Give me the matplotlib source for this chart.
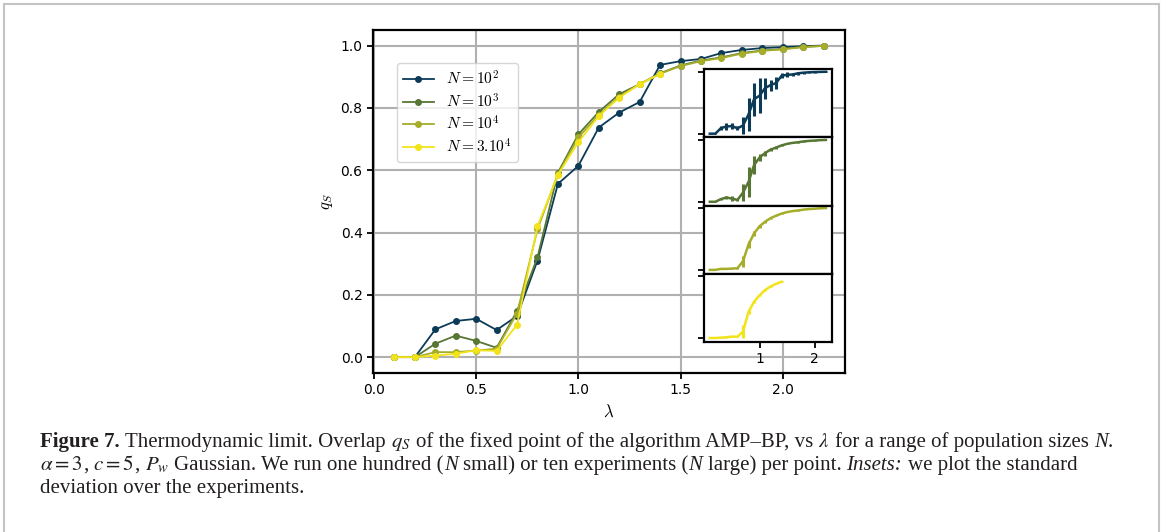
import numpy as np
import matplotlib
matplotlib.use('Agg')
import matplotlib.pyplot as plt
from matplotlib.lines import Line2D
from matplotlib.transforms import IdentityTransform

plt.rcParams['mathtext.fontset'] = 'cm'
plt.rcParams['font.family'] = ['DejaVu Sans']

# lambda grid of the main plot
lam = [0.1, 0.2, 0.3, 0.4, 0.5, 0.6, 0.7, 0.8, 0.9, 1.0, 1.1,
       1.2, 1.3, 1.4, 1.5, 1.6, 1.7, 1.8, 1.9, 2.0, 2.1, 2.2]

# overlap q_S for each population size
q_1e2 = [0.0, 0.0, 0.089, 0.116, 0.123, 0.087, 0.132, 0.31, 0.556, 0.614, 0.737,
         0.785, 0.819, 0.938, 0.95, 0.957, 0.976, 0.986, 0.992, 0.995, 0.998, 1.0]
q_1e3 = [0.0, 0.0, 0.043, 0.069, 0.052, 0.03, 0.148, 0.32, 0.592, 0.715, 0.787,
         0.844, 0.876, 0.911, 0.936, 0.952, 0.962, 0.976, 0.984, 0.989, 0.996, 0.999]
q_1e4 = [0.0, 0.0, 0.016, 0.016, 0.021, 0.027, 0.14, 0.41, 0.588, 0.705, 0.778,
         0.836, 0.876, 0.91, 0.934, 0.95, 0.96, 0.974, 0.983, 0.988, 0.995, 0.999]
q_3e4 = [0.0, 0.0, 0.005, 0.011, 0.022, 0.02, 0.104, 0.42, 0.585, 0.69, 0.774,
         0.833, 0.876, 0.909]

# standard deviation over experiments (insets)
std_1e2 = [0.0, 0.005, 0.03, 0.05, 0.045, 0.03, 0.14, 0.27, 0.27, 0.28, 0.17,
           0.09, 0.10, 0.04, 0.04, 0.03, 0.02, 0.015, 0.01, 0.01, 0.005, 0.005]
std_1e3 = [0.0, 0.005, 0.02, 0.027, 0.045, 0.02, 0.14, 0.24, 0.15, 0.06, 0.04,
           0.02, 0.02, 0.015, 0.01, 0.01, 0.01, 0.005, 0.005, 0.005, 0.005, 0.005]
std_1e4 = [0.0, 0.0, 0.005, 0.005, 0.01, 0.015, 0.09, 0.05, 0.04, 0.025, 0.015,
           0.01, 0.01, 0.005, 0.005, 0.005, 0.005, 0.0, 0.0, 0.0, 0.0, 0.0]
std_3e4 = [0.0, 0.0, 0.003, 0.005, 0.01, 0.01, 0.10, 0.03, 0.02, 0.01, 0.01,
           0.005, 0.005, 0.005]

labels = [r'$N=10^2$', r'$N=10^3$', r'$N=10^4$', r'$N=3.10^4$']
colors = ['#0c3b58', '#587634', '#a5ad29', '#f2e31a']
series = [q_1e2, q_1e3, q_1e4, q_3e4]
stds = [std_1e2, std_1e3, std_1e4, std_3e4]

W, H = 1163, 532
fig = plt.figure(figsize=(W / 100, H / 100), dpi=100)

# main axes
ax = fig.add_axes([373 / W, 1 - 372.7 / H, 472 / W, 342.7 / H])
for q, c, lab in zip(series, colors, labels):
    ax.plot(lam[:len(q)], q, '-o', color=c, lw=1.3, ms=4, label=lab)
ax.set_xticks([0.0, 0.5, 1.0, 1.5, 2.0])
ax.set_yticks([0.0, 0.2, 0.4, 0.6, 0.8, 1.0])
ax.grid(True, color='#b0b0b0', lw=1.5)
ax.set_axisbelow(True)
for s in ax.spines.values():
    s.set_linewidth(1.6)
ax.tick_params(labelsize=10, length=4, width=1.3)
ax.set_xlabel(r'$\lambda$', fontsize=12)
ax.set_ylabel(r'$q_S$', fontsize=12)
ax.legend(loc='upper left', bbox_to_anchor=(0.05, 0.903), borderaxespad=0,
          fontsize=11.2, handlelength=2.0, labelspacing=0.28, borderpad=0.4)

# insets: mean overlap with std error bars
top = 69.3
h = 68.1
for i, (q, sd, c) in enumerate(zip(series, stds, colors)):
    bot = top + (i + 1) * h
    ai = fig.add_axes([704 / W, 1 - bot / H, 127.7 / W, h / H])
    ai.errorbar(lam[:len(q)], q, yerr=sd, color=c, lw=1.8, elinewidth=2.2, capsize=0)
    ai.set_xlim(ax.get_xlim())
    ai.set_ylim(-0.06, 1.04)
    ai.set_yticks([0, 1])
    ai.set_yticklabels([])
    if i == 3:
        ai.set_xticks([1, 2])
    else:
        ai.set_xticks([])
    ai.tick_params(labelsize=10, length=4, width=1.3)
    for s in ai.spines.values():
        s.set_linewidth(1.6)

# page frame
fig.add_artist(Line2D([4 / W, 4 / W], [0, 1 - 4 / H], color='#c4c4c4', lw=1.5))
fig.add_artist(Line2D([4 / W, 1159 / W], [1 - 4 / H, 1 - 4 / H], color='#c4c4c4', lw=1.5))
fig.add_artist(Line2D([1159 / W, 1159 / W], [0, 1 - 4 / H], color='#c4c4c4', lw=1.5))

# caption, drawn piece by piece
renderer = fig.canvas.get_renderer()
cap_size = 15.05
cap_kw = dict(family='Liberation Serif', math_fontfamily='stix', color='#231f20')


def text_width(s, **kw):
    t = fig.text(0, 0, s, fontsize=cap_size, **cap_kw, **kw)
    w = t.get_window_extent(renderer).width
    t.remove()
    return w


space_w = text_width('a a') - text_width('aa')


def rich_line(x, y_img, parts):
    for txt, kw in parts:
        if txt.startswith(' '):
            x += space_w
            txt = txt[1:]
        t = fig.text(x, H - y_img, txt, transform=IdentityTransform(), va='baseline',
                     fontsize=cap_size, **cap_kw, **kw)
        x += t.get_window_extent(renderer).width
        if txt.endswith(' '):
            x += space_w


it = dict(style='italic')
rich_line(40, 447, [
    ('Figure 7.', dict(weight='bold')),
    (' Thermodynamic limit. Overlap', {}),
    (' $q_S$', {}),
    (' of the fixed point of the algorithm AMP\u2013BP, vs', {}),
    (' $\\lambda$', {}),
    (' for a range of population sizes', {}),
    (' N', it),
    ('.', {}),
])
rich_line(40, 470, [
    ('$\\alpha=3$', {}),
    (',', {}),
    (' $c=5$', {}),
    (',', {}),
    (' $P_w$', {}),
    (' Gaussian. We run one hundred (', {}),
    ('N', it),
    (' small) or ten experiments (', {}),
    ('N', it),
    (' large) per point.', {}),
    (' Insets:', it),
    (' we plot the standard', {}),
])
rich_line(40, 493, [
    ('deviation over the experiments.', {}),
])

fig.savefig('out.png', dpi=100)
